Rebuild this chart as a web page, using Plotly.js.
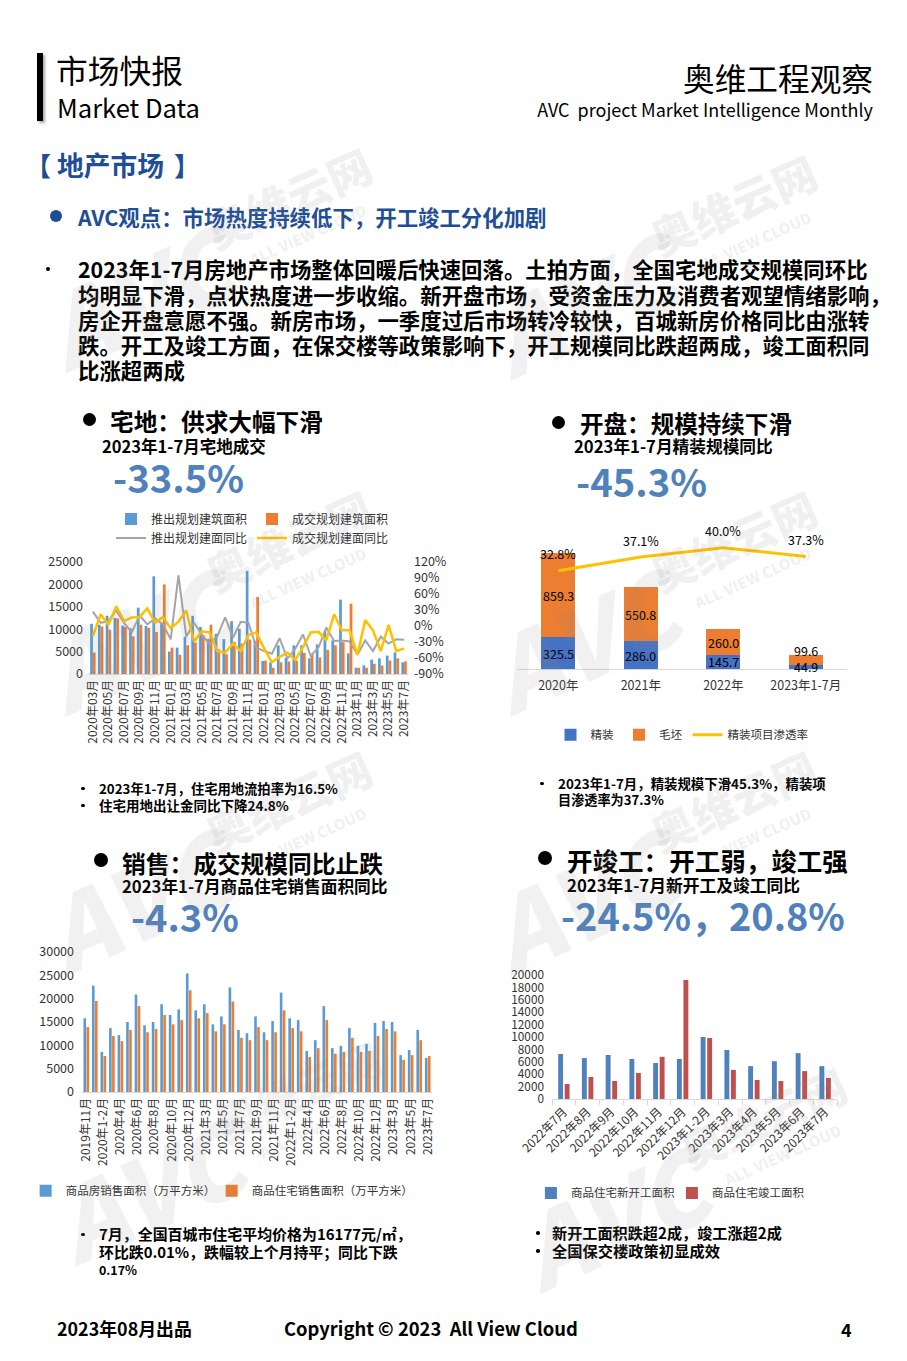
<!DOCTYPE html>
<html><head><meta charset="utf-8">
<script src="https://cdn.plot.ly/plotly-3.0.1.min.js"></script>
<style>
body{margin:0;background:#fff;}
#page{position:relative;width:907px;height:1361px;overflow:hidden;background:#fff;font-family:"Noto Sans CJK SC","Noto Sans",sans-serif;}
.t{position:absolute;white-space:pre;line-height:1;}
.chart{position:absolute;}
.dot{position:absolute;border-radius:50%;}
.wm{position:absolute;white-space:nowrap;pointer-events:none;font-weight:900;color:rgba(140,140,140,0.12);line-height:1;z-index:20;}
</style></head>
<body><div id="page">
<div style="position:absolute;left:37px;top:53px;width:6px;height:68px;background:#000;box-shadow:2px 2px 3px rgba(0,0,0,0.35);"></div>
<div class="chart" id="c1" style="left:0px;top:490px;width:460px;height:265px;"></div>
<div class="chart" id="c2" style="left:490px;top:505px;width:380px;height:250px;"></div>
<div class="chart" id="c3" style="left:0px;top:940px;width:450px;height:270px;"></div>
<div class="chart" id="c4" style="left:490px;top:960px;width:380px;height:250px;"></div>
</div>
<script>
// ---------- DATA ----------
const landCats = ['2020年03月','2020年04月','2020年05月','2020年06月','2020年07月','2020年08月','2020年09月','2020年10月','2020年11月','2020年12月',
 '2021年01月','2021年02月','2021年03月','2021年04月','2021年05月','2021年06月','2021年07月','2021年08月','2021年09月','2021年10月','2021年11月','2021年12月',
 '2022年01月','2022年02月','2022年03月','2022年04月','2022年05月','2022年06月','2022年07月','2022年08月','2022年09月','2022年10月','2022年11月','2022年12月',
 '2023年1月','2023年2月','2023年3月','2023年4月','2023年5月','2023年6月','2023年7月'];
const landSupply = [11200,11000,13000,12500,10800,10200,14800,10700,21800,11200,5000,5900,8300,13000,10500,7800,9000,7800,11800,10100,23000,7400,2900,2600,6400,3600,6400,6400,3500,6600,9700,7500,16600,4600,1400,1900,3200,3500,4100,4800,2600];
const landDeal = [4800,10600,9900,12400,10500,8400,11000,10300,9400,20000,5900,4300,6400,7000,8600,11000,5500,4400,7200,6800,7700,17200,3000,1400,2600,2800,3000,4700,4500,3700,5400,6400,7100,15700,1400,1400,2300,1900,3000,3500,2800];
const landSupplyYoY = [27,6,9,29,6,-12,20,3,14,3,-25,95,-20,6,-16,-34,-19,16,-22,8,6,-40,-47,-52,-23,-61,-43,-16,-56,-40,-3,-28,-27,-29,-54,-27,-47,-20,-33,-25,-26];
const landDealYoY = [-19,22,2,37,9,16,17,33,6,17,-4,8,29,-29,-10,-12,-47,-50,-33,-47,-17,-12,-42,-68,-58,-50,-64,-40,-12,-11,-27,22,-8,-8,-54,11,-8,-47,2,-47,-42];
const landPctTicks = [-90,-60,-30,0,30,60,90,120];

const fineCats = ['2020年','2021年','2022年','2023年1-7月'];
const fineDecor = [325.5,286.0,145.7,44.9];
const roughDecor = [859.3,550.8,260.0,99.6];
const fineRate = [32.8,37.1,40.0,37.3];
const roughLabelPos = ['mid','mid','mid','top'];

const salesCats = ['2019年11月','2019年12月','2020年1-2月','2020年3月','2020年4月','2020年5月','2020年6月','2020年7月','2020年8月','2020年9月','2020年10月','2020年11月','2020年12月',
 '2021年1-2月','2021年3月','2021年4月','2021年5月','2021年6月','2021年7月','2021年8月','2021年9月','2021年10月','2021年11月','2021年12月',
 '2022年1-2月','2022年3月','2022年4月','2022年5月','2022年6月','2022年7月','2022年8月','2022年9月','2022年10月','2022年11月','2022年12月',
 '2023年1-2月','2023年3月','2023年4月','2023年5月','2023年6月','2023年7月'];
const salesHouse = [15800,22800,8600,13700,12200,15000,20900,14300,15000,18800,16500,17700,25400,17500,18800,14500,16200,22400,13300,12600,16200,12800,15200,21300,15800,15400,8800,11100,18400,9400,9900,13700,9900,10300,14800,15200,15000,7900,9000,13300,7300];
const salesResi = [13900,19500,7700,12000,10900,13300,18400,12800,13500,16500,14500,15400,21800,15800,16900,13000,14500,19400,11600,11100,13900,11100,12800,17500,13700,13000,7500,9400,15400,8200,8600,11600,8600,8800,12000,13500,13000,6900,7900,11100,7700];

const startCats = ['2022年7月','2022年8月','2022年9月','2022年10月','2022年11月','2022年12月','2023年1-2月','2023年3月','2023年4月','2023年5月','2023年6月','2023年7月'];
const newStarts = [7260,6600,7100,6450,5800,6450,10000,7900,5300,6100,7400,5300];
const completions = [2420,3550,2900,4200,6800,19200,9840,4700,3060,2900,4500,3400];

// ---------- TEXT ----------
const BLUE_D = '#1F4E96', BLUE_N = '#4F81BD';
const texts = [
 {t:'市场快报', x:56, cy:70, w:127, s:32},
 {t:'Market Data', x:57, cy:107, w:143, s:25},
 {t:'奥维工程观察', x:873, cy:77.5, w:190, s:32, r:1},
 {t:'AVC  project Market Intelligence Monthly', x:873, cy:109, w:336, s:18, r:1},
 {t:'【', x:25, cy:165, s:26, b:1, c:BLUE_D},
 {t:'地产市场', x:57, cy:165, w:107, s:26, b:1, c:BLUE_D},
 {t:'】', x:174, cy:165, s:26, b:1, c:BLUE_D},
 {t:'AVC观点：市场热度持续低下，开工竣工分化加剧', x:78, cy:216.5, w:469, s:21, b:1, c:BLUE_D},
 {t:'2023年1-7月房地产市场整体回暖后快速回落。土拍方面，全国宅地成交规模同环比', x:78, cy:269, w:790, s:21, b:1, g:'p'},
 {t:'均明显下滑，点状热度进一步收缩。新开盘市场，受资金压力及消费者观望情绪影响，', x:78, cy:294.3, s:21, b:1, g:'p'},
 {t:'房企开盘意愿不强。新房市场，一季度过后市场转冷较快，百城新房价格同比由涨转', x:78, cy:319.5, s:21, b:1, g:'p'},
 {t:'跌。开工及竣工方面，在保交楼等政策影响下，开工规模同比跌超两成，竣工面积同', x:78, cy:344.7, s:21, b:1, g:'p'},
 {t:'比涨超两成', x:78, cy:369.9, s:21, b:1, g:'p'},
 {t:'宅地：供求大幅下滑', x:110, cy:422, w:213, s:24, b:1},
 {t:'2023年1-7月宅地成交', x:102, cy:446, w:164, s:16, b:1},
 {t:'-33.5%', x:113, cy:477.5, w:131, s:38, b:1, c:BLUE_N},
 {t:'开盘：规模持续下滑', x:580, cy:423.5, w:212, s:24, b:1},
 {t:'2023年1-7月精装规模同比', x:574, cy:446, w:199, s:16, b:1},
 {t:'-45.3%', x:576, cy:481.5, w:131, s:38, b:1, c:BLUE_N},
 {t:'2023年1-7月，住宅用地流拍率为16.5%', x:99, cy:788.5, w:239, s:12.5, b:1},
 {t:'住宅用地出让金同比下降24.8%', x:99, cy:805.5, w:190, s:12.5, b:1},
 {t:'2023年1-7月，精装规模下滑45.3%，精装项', x:558, cy:783.5, w:268, s:12.5, b:1},
 {t:'目渗透率为37.3%', x:558, cy:800, w:106, s:12.5, b:1},
 {t:'销售：成交规模同比止跌', x:122, cy:862.5, w:261, s:24, b:1},
 {t:'2023年1-7月商品住宅销售面积同比', x:122, cy:886, w:266, s:16, b:1},
 {t:'-4.3%', x:131, cy:916, w:108, s:38, b:1, c:BLUE_N},
 {t:'开竣工：开工弱，竣工强', x:567, cy:860, w:281, s:24, b:1},
 {t:'2023年1-7月新开工及竣工同比', x:567, cy:885, w:233, s:16, b:1},
 {t:'-24.5%，20.8%', x:561, cy:915, w:284, s:38, b:1, c:BLUE_N},
 {t:'7月，全国百城市住宅平均价格为16177元/㎡，', x:99, cy:1234.5, w:313, s:13.5, b:1},
 {t:'环比跌0.01%，跌幅较上个月持平；同比下跌', x:99, cy:1252, w:299, s:13.5, b:1},
 {t:'0.17%', x:99, cy:1270, w:38, s:13.5, b:1},
 {t:'新开工面积跌超2成，竣工涨超2成', x:552, cy:1233, w:230, s:14, b:1},
 {t:'全国保交楼政策初显成效', x:552, cy:1251, w:168, s:14, b:1},
 {t:'2023年08月出品', x:57, cy:1329, w:135, s:18, b:1},
 {t:'Copyright © 2023  All View Cloud', x:284, cy:1328, w:294, s:18, b:1},
 {t:'4', x:841, cy:1329, s:18, b:1}
];
const dots = [
 [56,216,12,BLUE_D],[48,269,4.5,'#000'],[89.5,419.5,13,'#000'],[558,422.5,13,'#000'],
 [83,788.5,3.5,'#000'],[83,805.5,3.5,'#000'],[542,783.5,3.5,'#000'],
 [101,860,14,'#000'],[545,858,14,'#000'],[83,1234.5,3.5,'#000'],[538,1233,3.5,'#000'],[538,1251,3.5,'#000']
];
const page = document.getElementById('page');
function buildText(){
  document.querySelectorAll('.gen').forEach(e=>e.remove());
  const groups = {};
  texts.forEach(sp=>{
    const el = document.createElement('div');
    el.className='t gen';
    el.textContent = sp.t;
    el.style.fontWeight = sp.b ? '700' : '400';
    el.style.color = sp.c || '#000';
    el.style.fontSize = sp.s + 'px';
    page.appendChild(el);
    let fs = sp.s;
    if (sp.w) {
      const w = el.getBoundingClientRect().width;
      if (w > 0) fs = Math.max(sp.s*0.7, Math.min(sp.s*1.4, sp.s*sp.w/w));
      if (sp.g) groups[sp.g] = fs;
    } else if (sp.g && groups[sp.g]) fs = groups[sp.g];
    el.style.fontSize = fs + 'px';
    const w2 = el.getBoundingClientRect().width;
    el.style.top = (sp.cy - fs/2) + 'px';
    el.style.left = (sp.r ? sp.x - w2 : sp.x) + 'px';
  });
  dots.forEach(d=>{
    const el = document.createElement('div');
    el.className='dot gen';
    el.style.left=(d[0]-d[2]/2)+'px'; el.style.top=(d[1]-d[2]/2)+'px';
    el.style.width=d[2]+'px'; el.style.height=d[2]+'px'; el.style.background=d[3];
    page.appendChild(el);
  });
  // watermarks
  const spots = [[290,205],[735,212],[290,548],[735,548],[290,808],[735,808],[300,1098],[765,1125]];
  spots.forEach(p=>{
    const a = document.createElement('div'); a.className='wm gen';
    a.textContent='奥维云网'; a.style.fontSize='44px';
    a.style.left=(p[0]-90)+'px'; a.style.top=(p[1]-30)+'px'; a.style.transform='rotate(-24deg)';
    page.appendChild(a);
    const b = document.createElement('div'); b.className='wm gen';
    b.textContent='ALL VIEW CLOUD'; b.style.fontSize='15px';
    b.style.left=(p[0]-45)+'px'; b.style.top=(p[1]+22)+'px'; b.style.transform='rotate(-24deg)';
    page.appendChild(b);
    const c = document.createElement('div'); c.className='wm gen';
    c.textContent='AVC'; c.style.fontSize='100px'; c.style.fontStyle='italic';
    c.style.left=(p[0]-250)+'px'; c.style.top=(p[1]+40)+'px'; c.style.transform='rotate(-24deg)';
    page.appendChild(c);
  });
}
buildText();
if (document.fonts && document.fonts.ready) document.fonts.ready.then(buildText);

// ---------- CHARTS ----------
const FF = '"Noto Sans CJK SC","Noto Sans",sans-serif';
const TXT = '#333333';
const cfg = {staticPlot:true, displayModeBar:false};
const every2 = a => a.filter((c,i)=>i%2===0);

Plotly.newPlot('c1', [
  {type:'bar', name:'推出规划建筑面积', x:landCats, y:landSupply, marker:{color:'#5B9BD5'}, legendwidth:87},
  {type:'bar', name:'成交规划建筑面积', x:landCats, y:landDeal, marker:{color:'#ED7D31'}},
  {type:'scatter', mode:'lines', name:'推出规划建面同比', x:landCats, y:landSupplyYoY, yaxis:'y2', line:{color:'#A5A5A5', width:2}, legendwidth:87},
  {type:'scatter', mode:'lines', name:'成交规划建面同比', x:landCats, y:landDealYoY, yaxis:'y2', line:{color:'#FFC000', width:2.5}}
], {
  width:460, height:265, margin:{l:89, r:52, t:72, b:81, autoexpand:false},
  paper_bgcolor:'rgba(0,0,0,0)', plot_bgcolor:'rgba(0,0,0,0)',
  font:{family:FF, size:12, color:TXT},
  barmode:'group', bargap:0.3, bargroupgap:0,
  showlegend:true,
  legend:{orientation:'h', x:0.069, xanchor:'left', y:1.513, yanchor:'top', traceorder:'normal', font:{size:12, color:TXT}, bgcolor:'rgba(0,0,0,0)', tracegroupgap:0},
  xaxis:{type:'category', tickmode:'array', tickvals:every2(landCats), tickangle:-90, showline:true, linecolor:'#D9D9D9', ticks:'', tickfont:{size:12}, automargin:false},
  yaxis:{range:[0,25000], dtick:5000, tickformat:'d', showgrid:false, zeroline:false, showline:false, tickfont:{size:12.5}, ticklabelstandoff:5, automargin:false},
  yaxis2:{overlaying:'y', side:'right', range:[-90,120], tickmode:'array', tickvals:landPctTicks, ticktext:landPctTicks.map(v=>v+'%'), showgrid:false, zeroline:false, showline:false, tickfont:{size:12.5}, ticklabelstandoff:5, automargin:false}
}, cfg);

const segFont = {size:12.5, color:'#000'};
const c2Ann = [].concat(
  fineCats.map((c,i)=>({x:c, y:fineDecor[i]/2, xref:'x', yref:'y', text:fineDecor[i].toFixed(1), showarrow:false, font:segFont})),
  fineCats.map((c,i)=>roughLabelPos[i]==='mid'
     ? ({x:c, y:fineDecor[i]+roughDecor[i]/2, xref:'x', yref:'y', text:roughDecor[i].toFixed(1), showarrow:false, font:segFont})
     : ({x:c, y:fineDecor[i]+roughDecor[i], xref:'x', yref:'y', text:roughDecor[i].toFixed(1), showarrow:false, yshift:4, font:segFont})),
  fineCats.map((c,i)=>({x:c, y:fineRate[i], xref:'x', yref:'y2', text:fineRate[i].toFixed(1)+'%', showarrow:false, yshift:17, font:segFont}))
);
Plotly.newPlot('c2', [
  {type:'bar', name:'精装', x:fineCats, y:fineDecor, marker:{color:'#4472C4'}},
  {type:'bar', name:'毛坯', x:fineCats, y:roughDecor, marker:{color:'#ED7D31'}},
  {type:'scatter', mode:'lines', name:'精装项目渗透率', x:fineCats, y:fineRate, yaxis:'y2', line:{color:'#FFC000', width:3}}
], {
  width:380, height:250, margin:{l:27, r:23, t:24, b:86, autoexpand:false},
  paper_bgcolor:'rgba(0,0,0,0)', plot_bgcolor:'rgba(0,0,0,0)',
  font:{family:FF, size:12, color:TXT},
  barmode:'stack', bargap:0.59,
  showlegend:true,
  legend:{orientation:'h', x:0.5, xanchor:'center', y:-0.47, yanchor:'middle', traceorder:'normal', font:{size:11.5, color:TXT}, bgcolor:'rgba(0,0,0,0)'},
  xaxis:{type:'category', showline:true, linecolor:'#D9D9D9', ticks:'', tickfont:{size:12.5}, ticklabelstandoff:5, automargin:false},
  yaxis:{range:[0,1433], visible:false},
  yaxis2:{overlaying:'y', range:[2,45.9], visible:false},
  annotations: c2Ann
}, cfg);

Plotly.newPlot('c3', [
  {type:'bar', name:'商品房销售面积（万平方米）', x:salesCats, y:salesHouse, marker:{color:'#5B9BD5'}, legendwidth:141},
  {type:'bar', name:'商品住宅销售面积（万平方米）', x:salesCats, y:salesResi, marker:{color:'#ED7D31'}}
], {
  width:450, height:270, margin:{l:82, r:18, t:12, b:118, autoexpand:false},
  paper_bgcolor:'rgba(0,0,0,0)', plot_bgcolor:'rgba(0,0,0,0)',
  font:{family:FF, size:12, color:TXT},
  barmode:'group', bargap:0.3, bargroupgap:0.12,
  showlegend:true,
  legend:{orientation:'h', x:-0.161, xanchor:'left', y:-0.705, yanchor:'middle', traceorder:'normal', font:{size:11.5, color:TXT}, bgcolor:'rgba(0,0,0,0)'},
  xaxis:{type:'category', tickmode:'array', tickvals:every2(salesCats), tickangle:-90, showline:true, linecolor:'#D9D9D9', ticks:'', tickfont:{size:12}, automargin:false},
  yaxis:{range:[0,30000], dtick:5000, tickformat:'d', showgrid:false, zeroline:false, showline:false, tickfont:{size:12.5}, ticklabelstandoff:7, automargin:false}
}, cfg);

Plotly.newPlot('c4', [
  {type:'bar', name:'商品住宅新开工面积', x:startCats, y:newStarts, marker:{color:'#4F81BD'}, legendwidth:96},
  {type:'bar', name:'商品住宅竣工面积', x:startCats, y:completions, marker:{color:'#C0504D'}}
], {
  width:380, height:250, margin:{l:62, r:33, t:15, b:111, autoexpand:false},
  paper_bgcolor:'rgba(0,0,0,0)', plot_bgcolor:'rgba(0,0,0,0)',
  font:{family:FF, size:12, color:TXT},
  barmode:'group', bargap:0.45, bargroupgap:0.25,
  showlegend:true,
  legend:{orientation:'h', x:-0.074, xanchor:'left', y:-0.758, yanchor:'middle', traceorder:'normal', font:{size:11.5, color:TXT}, bgcolor:'rgba(0,0,0,0)'},
  xaxis:{type:'category', tickangle:-45, showline:true, linecolor:'#D9D9D9', ticks:'outside', tickson:'boundaries', ticklen:5, tickcolor:'#D9D9D9', tickfont:{size:12}, automargin:false},
  yaxis:{range:[0,20000], dtick:2000, tickformat:'d', showgrid:false, zeroline:false, showline:false, tickfont:{size:11.8}, ticklabelstandoff:7, automargin:false}
}, cfg);
</script>
</body></html>
